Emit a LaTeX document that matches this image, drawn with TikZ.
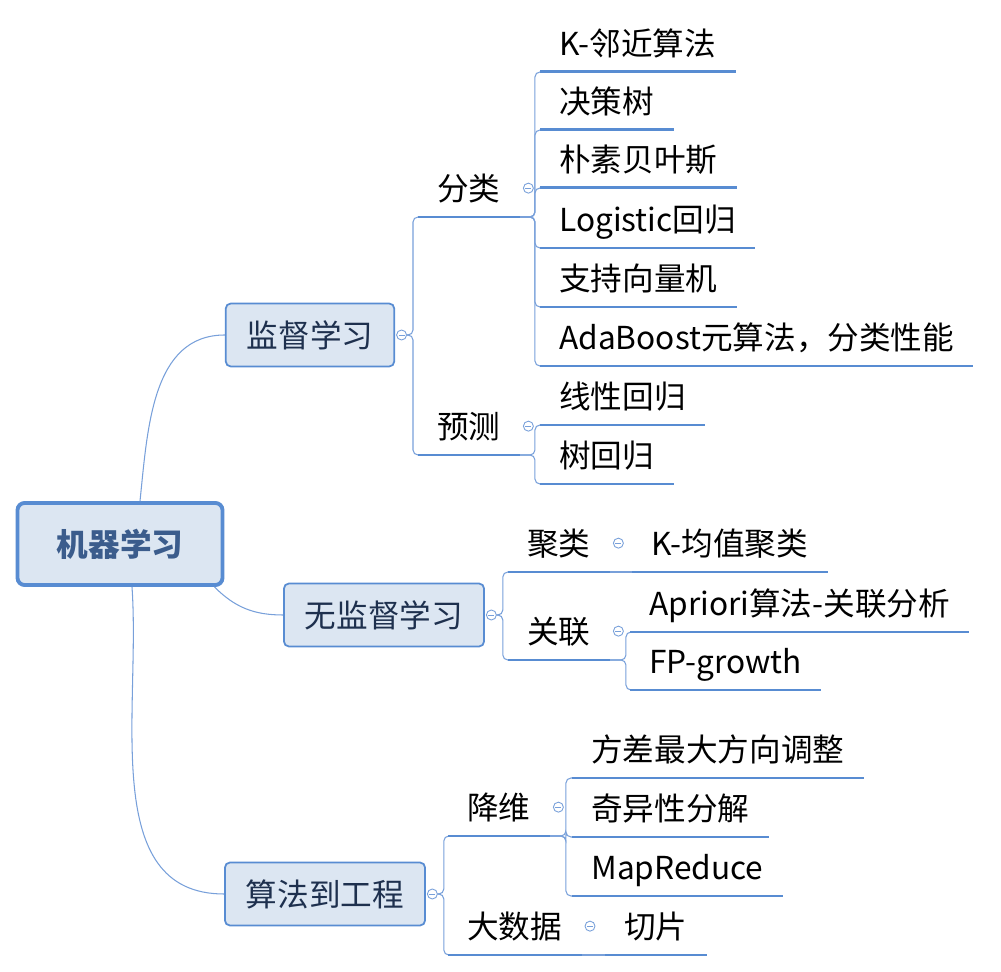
\documentclass[tikz,border=0pt]{standalone}
\usepackage{fontspec}
\setmainfont{Noto Sans CJK SC}
\usetikzlibrary{positioning,calc}

\definecolor{lineblue}{RGB}{88,140,210}
\definecolor{thinblue}{RGB}{120,160,218}
\definecolor{boxfill}{RGB}{220,230,242}
\definecolor{roottext}{RGB}{59,92,140}
\definecolor{topictext}{RGB}{30,48,78}

\tikzset{
  rootbox/.style={draw=lineblue, line width=2.2pt, fill=boxfill, rounded corners=0.14cm,
    text=roottext, font=\fontsize{18}{20}\selectfont\bfseries,
    minimum width=4.1cm, minimum height=1.64cm},
  topic/.style={draw=lineblue, line width=1pt, fill=boxfill, rounded corners=0.1cm,
    text=topictext, font=\fontsize{18}{20}\selectfont, inner xsep=0.42cm, minimum height=1.26cm},
  item/.style={anchor=south west, font=\fontsize{18}{20}\selectfont,
    inner xsep=0.38cm, inner ysep=0.32cm, text height=0.5cm, text depth=0pt},
  uline/.style={draw=lineblue, line width=1.7pt},
  conn/.style={draw=thinblue, line width=0.6pt},
  bracket/.style={conn, rounded corners=0.1cm},
  fold/.style={circle, draw=thinblue, fill=white, line width=0.5pt, inner sep=0pt,
    minimum size=0.2cm, path picture={\draw[thinblue, line width=0.4pt]
      ([xshift=-0.06cm]path picture bounding box.center) -- ([xshift=0.06cm]path picture bounding box.center);}},
}

\begin{document}
\begin{tikzpicture}[x=0.02cm, y=-0.02cm]
    \useasboundingbox (0,0) rectangle (1001,972);

    % root and main topics
    \node[rootbox] (ml) at (120,544) {机器学习};
    \node[topic] (jd) at (310,335) {监督学习};
    \node[topic] (wjd) at (384,615) {无监督学习};
    \node[topic] (gc) at (325,894) {算法到工程};

    \draw[conn] ([xshift=0.4cm]ml.north) to[out=84,in=180] (jd.west);
    \draw[conn] ([xshift=-0.2cm]ml.south east) to[out=-45,in=180] (wjd.west);
    \draw[conn] ([xshift=0.24cm]ml.south) to[out=-86,in=180] (gc.west);

    \node[fold, right=0.02cm of jd] (jdF) {};
    \node[fold, right=0.02cm of wjd] (wjdF) {};
    \node[fold, right=0.02cm of gc] (gcF) {};

    % second level
    \node[item] (fen) at (418,217) {分类};
    \node[item] (yc) at (418,455) {预测};
    \node[item] (jl) at (508,572) {聚类};
    \node[item] (gl) at (508,660) {关联};
    \node[item] (jw) at (448,836) {降维};
    \node[item] (dsj) at (448,955) {大数据};

    \foreach \n in {fen,yc,jl,gl,jw,dsj}
        \node[fold, right=0.06cm of \n] (\n F) {};

    \draw[bracket] (jdF.east) -- ++(6,0) |- (fen.south west);
    \draw[bracket] (jdF.east) -- ++(6,0) |- (yc.south west);
    \draw[bracket] (wjdF.east) -- ++(6,0) |- (jl.south west);
    \draw[bracket] (wjdF.east) -- ++(6,0) |- (gl.south west);
    \draw[bracket] (gcF.east) -- ++(6,0) |- (jw.south west);
    \draw[bracket] (gcF.east) -- ++(6,0) |- (dsj.south west);

    % leaves
    \node[item] (knn) at (540,72) {K-邻近算法};
    \node[item] (jcs) at (540,130) {决策树};
    \node[item] (pbs) at (540,188) {朴素贝叶斯};
    \node[item] (lr) at (540,248) {Logistic回归};
    \node[item] (svm) at (540,307) {支持向量机};
    \node[item] (ada) at (540,366) {AdaBoost元算法，分类性能};
    \node[item] (xxhg) at (540,425) {线性回归};
    \node[item] (shg) at (540,484) {树回归};
    \node[item] (km) at (632,572) {K-均值聚类};
    \node[item] (apr) at (630,632) {Apriori算法-关联分析};
    \node[item] (fp) at (630,690) {FP-growth};
    \node[item] (fc) at (572,778) {方差最大方向调整};
    \node[item] (qy) at (572,837) {奇异性分解};
    \node[item] (mr) at (572,896) {MapReduce};
    \node[item] (qp) at (605,955) {切片};

    \foreach \c in {knn,jcs,pbs,lr,svm,ada}
        \draw[bracket] (fen.south east) -- ++(15,0) |- (\c.south west);
    \foreach \c in {xxhg,shg}
        \draw[bracket] (yc.south east) -- ++(15,0) |- (\c.south west);
    \foreach \c in {apr,fp}
        \draw[bracket] (gl.south east) -- ++(16,0) |- (\c.south west);
    \foreach \c in {fc,qy,mr}
        \draw[bracket] (jw.south east) -- ++(16,0) |- (\c.south west);
    \draw[conn] (jl.south east) -- (km.south west);
    \draw[conn] (dsj.south east) -- (qp.south west);

    % underlines
    \foreach \n in {fen,yc,jl,gl,jw,dsj,knn,jcs,pbs,lr,svm,ada,xxhg,shg,km,apr,fp,fc,qy,mr,qp}
        \draw[uline] (\n.south west) -- (\n.south east);
\end{tikzpicture}
\end{document}
